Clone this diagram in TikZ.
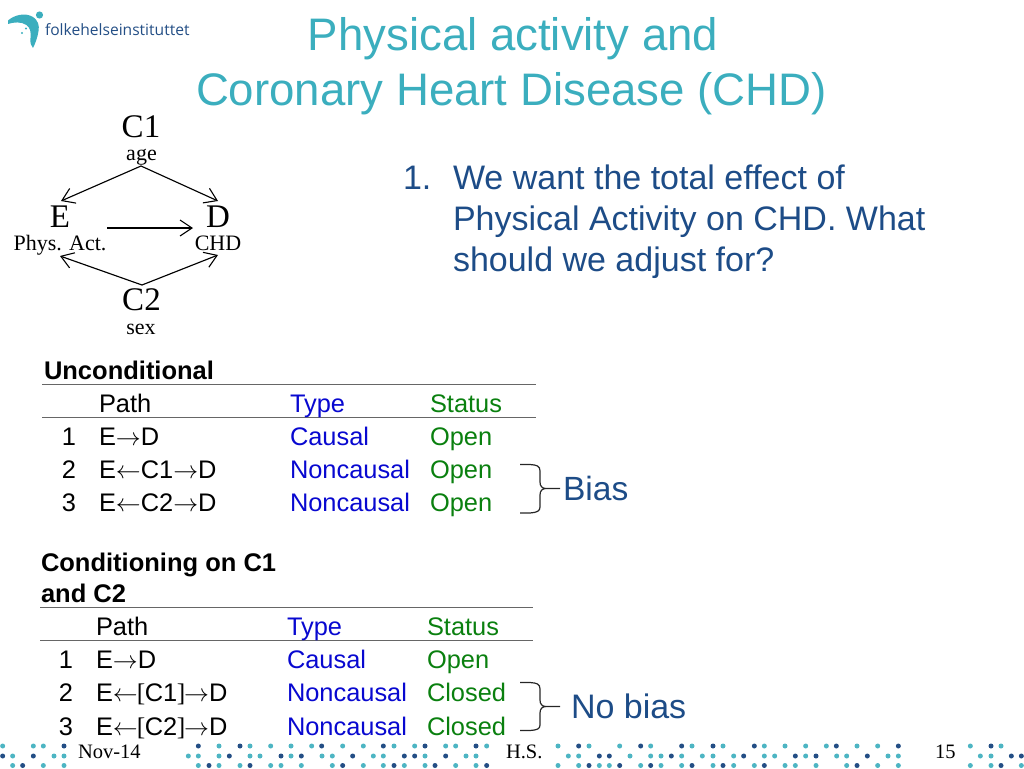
\documentclass[tikz,border=0pt]{standalone}
\usepackage{fontspec}
\setmainfont{Liberation Sans}
\newfontfamily\tms{Liberation Serif}
\newfontfamily\logofont{Open Sans}
\usetikzlibrary{arrows.meta}
\definecolor{titleteal}{HTML}{3BAEBE}
\definecolor{bodyblue}{HTML}{1D4C87}
\definecolor{typeblue}{HTML}{0808D0}
\definecolor{statgreen}{HTML}{0A800F}
\definecolor{dotteal}{HTML}{4DB5C3}
\definecolor{dotnavy}{HTML}{234E85}
\newcommand{\fs}[1]{\fontsize{#1}{#1}\selectfont}
\newcommand{\ra}{\ensuremath{\rightarrow}}
\newcommand{\la}{\ensuremath{\leftarrow}}
\newcommand{\lb}{\kern-1pt{\tms[}\kern-0.5pt}
\newcommand{\rb}{\kern-0.5pt{\tms]}\kern-1pt}
\tikzset{
 every node/.style={inner sep=0pt,outer sep=0pt},
 titletxt/.style={text=titleteal,font=\fs{45.6},anchor=base},
 bodytxt/.style={text=bodyblue,font=\fs{34},anchor=base west},
 big/.style={font=\tms\fs{33},anchor=base},
 small/.style={font=\tms\fs{22},anchor=base},
 foot/.style={font=\tms\fs{20.5},anchor=base west},
 cell/.style={font=\fs{25.4},anchor=base west},
 typecell/.style={cell,text=typeblue},
 statcell/.style={cell,text=statgreen},
 numcell/.style={font=\fs{25.4},anchor=base},
 hd/.style={font=\bfseries\fs{25.5},anchor=base west},
 rulel/.style={draw=black!60,line width=1pt},
 dag/.style={draw=black,line width=1.15pt,-{Straight Barb[length=12pt,width=16pt,line width=1.1pt]}},
 bracel/.style={draw=black!85,line width=1.2pt},
}
\begin{document}
\begin{tikzpicture}[x=1pt,y=-1pt]
\useasboundingbox (0,0) rectangle (1024,768);
% logo
\fill[titleteal] (8,20.5) .. controls (14,15) and (25,12.5) .. (32,16.5) .. controls (38.5,20) and (39.5,26) .. (38.5,31) .. controls (37.5,38) and (35,44) .. (33,48) .. controls (31,46) and (30,43) .. (30.5,38) .. controls (31,32) and (30.5,28) .. (26.5,25) .. controls (21,21.5) and (14,22) .. (8,24) -- cycle;
\fill[titleteal] (39.5,15) circle (3.6pt);
\fill[titleteal] (26,28.5) circle (1.2pt) (22,33) circle (1.1pt);
\node[font=\logofont\fs{15.6},text=dotnavy,anchor=base west] (logotxt) at (45,36) {folkehelseinstituttet};
% title
\node[titletxt] (t1) at (513,50) {Physical activity and};
\node[titletxt] (t2) at (511.5,105) {Coronary Heart Disease (CHD)};
% body
\node[bodytxt] (n1) at (403,189) {1.};
\node[bodytxt] (b1) at (453,189) {We want the total effect of};
\node[bodytxt] (b2) at (453,230) {Physical Activity on CHD. What};
\node[bodytxt] (b3) at (453,271) {should we adjust for?};
% DAG
\node[big] (C1) at (141,137) {C1};
\node[small] (age) at (141.5,160) {age};
\node[big] (E) at (60,227) {E};
\node[small] (phys) at (60,250) {Phys. Act.};
\node[big] (D) at (218,227) {D};
\node[small] (chd) at (218,250) {CHD};
\node[big] (C2) at (141.5,310) {C2};
\node[small] (sex) at (141,334) {sex};
\coordinate (c1o) at (141,166);
\coordinate (c2o) at (142,285);
\coordinate (ei) at (61,201);
\coordinate (di) at (218,201);
\coordinate (el) at (60,256);
\coordinate (dl) at (218,255);
\coordinate (eo) at (107,228);
\coordinate (do) at (193,228);
\draw[dag] (c1o) -- (ei);
\draw[dag] (c1o) -- (di);
\draw[dag] (eo) -- (do);
\draw[dag] (c2o) -- (el);
\draw[dag] (c2o) -- (dl);
% table 1
\node[hd] (h1) at (44,379) {Unconditional};
\coordinate (r1a) at (42,384); \coordinate (r1b) at (536,384);
\coordinate (r2a) at (42,417); \coordinate (r2b) at (536,417);
\draw[rulel] (r1a) -- (r1b);
\draw[rulel] (r2a) -- (r2b);
\node[cell] (p0) at (99,412) {Path};
\node[typecell] (ty0) at (290,412) {Type};
\node[statcell] (st0) at (430,412) {Status};
\node[numcell] (k1) at (69,445) {1};
\node[cell] (p1) at (99,445) {E\ra D};
\node[typecell] (ty1) at (290,445) {Causal};
\node[statcell] (st1) at (430,445) {Open};
\node[numcell] (k2) at (69,478) {2};
\node[cell] (p2) at (99,478) {E\la C1\ra D};
\node[typecell] (ty2) at (290,478) {Noncausal};
\node[statcell] (st2) at (430,478) {Open};
\node[numcell] (k3) at (69,511) {3};
\node[cell] (p3) at (99,511) {E\la C2\ra D};
\node[typecell] (ty3) at (290,511) {Noncausal};
\node[statcell] (st3) at (430,511) {Open};
\draw[bracel] (520,464.5) -- (530,464.5) .. controls (537,465) and (540,466) .. (540,471) -- (540,482) .. controls (540,486) and (542,488.5) .. (546,488.5) -- (560,488.5) -- (546,488.5) .. controls (542,488.5) and (540,491) .. (540,495) -- (540,507) .. controls (540,511) and (537,512.5) .. (530,513) -- (520,513);
\node[bodytxt,font=\fs{33.6}] (bias) at (563,500) {Bias};
% table 2
\node[hd] (h2a) at (41,571) {Conditioning on C1};
\node[hd] (h2b) at (41,602) {and C2};
\coordinate (r3a) at (40,607); \coordinate (r3b) at (533,607);
\coordinate (r4a) at (40,640); \coordinate (r4b) at (533,640);
\draw[rulel] (r3a) -- (r3b);
\draw[rulel] (r4a) -- (r4b);
\node[cell] (q0) at (96,635) {Path};
\node[typecell] (tz0) at (287,635) {Type};
\node[statcell] (su0) at (427,635) {Status};
\node[numcell] (m1) at (66,668) {1};
\node[cell] (q1) at (96,668) {E\ra D};
\node[typecell] (tz1) at (287,668) {Causal};
\node[statcell] (su1) at (427,668) {Open};
\node[numcell] (m2) at (66,701) {2};
\node[cell] (q2) at (96,701) {E\la\lb C1\rb\ra D};
\node[typecell] (tz2) at (287,701) {Noncausal};
\node[statcell] (su2) at (427,701) {Closed};
\node[numcell] (m3) at (66,735) {3};
\node[cell] (q3) at (96,735) {E\la\lb C2\rb\ra D};
\node[typecell] (tz3) at (287,735) {Noncausal};
\node[statcell] (su3) at (427,735) {Closed};
\draw[bracel] (520,682.5) -- (530,682.5) .. controls (537,683) and (540,684) .. (540,689) -- (540,700) .. controls (540,704) and (542,706.5) .. (546,706.5) -- (560,706.5) -- (546,706.5) .. controls (542,706.5) and (540,709) .. (540,713) -- (540,725) .. controls (540,729) and (537,730) .. (530,730.5) -- (520,730.5);
\node[bodytxt] (nobias) at (571,718) {No bias};
% footer dots: x in thirds of a pixel
\foreach \c/\y/\list in {
 dotteal/746/{8,100,130,657,750,812,873,935,1028,1090,1182,1244,1337,1367,1460},
 dotnavy/746/{192,595,720,965,1150,1275,1428},
 dotteal/756/{38,162,192,565,595,657,750,780,873,966,997,1120,1150,1275,1398,1428},
 dotnavy/756/{8,100,688,843,904,1058,1213,1244,1337},
 dotteal/765.5/{38,130,192,595,657,720,812,843,904,997,1090,1150,1213,1275,1367,1428},
 dotnavy/765.5/{68,627,750,1028,1182,1305,1460},
 dotteal/746/{1674,1767,1859,1952,2076,2169,2293,2355,2417,2479,2571,2633,2911,3003},
 dotnavy/746/{1736,1922,2045,2139,2263,2509,2695,2973},
 dotteal/756/{1705,1736,1890,1952,1983,2045,2107,2139,2201,2293,2324,2417,2510,2540,2664,2695,2941,2973},
 dotnavy/756/{1798,1828,2014,2231,2386,2448,2602,3034,3064},
 dotteal/765.5/{1674,1736,1798,1828,1922,1983,2045,2139,2201,2263,2355,2386,2448,2540,2633,2695,2911,2973,3064},
 dotnavy/765.5/{1767,1859,1952,2076,2169,2293,2571,3003}}
 {\foreach \x in \list {\fill[\c] ({\x/3},\y) circle (2.5pt);}}
% footer text
\node[foot] (f1) at (78,758) {Nov-14};
\node[foot] (f2) at (506,758) {H.S.};
\node[foot] (f3) at (935,758) {15};
\end{tikzpicture}
\end{document}
